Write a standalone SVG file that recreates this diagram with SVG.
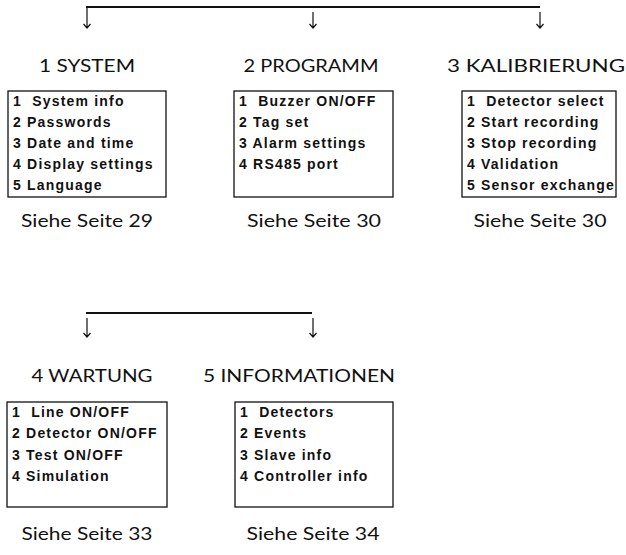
<svg xmlns="http://www.w3.org/2000/svg" width="626" height="555" viewBox="0 0 626 555">
<defs>
<style>
.bg{fill:#fff}
.title{font-family:"Lato","Open Sans",sans-serif;font-size:17.5px;fill:#111;text-anchor:middle}
.ref{font-family:"Lato","Open Sans",sans-serif;font-size:18px;fill:#111;text-anchor:middle}
.item{font-family:"Liberation Sans","DejaVu Sans",sans-serif;font-size:14px;font-weight:bold;fill:#111;letter-spacing:1.2px;white-space:pre}
.box{fill:#fff;stroke:#111;stroke-width:1.3}
.bar{stroke:#111;stroke-width:2;fill:none}
.arr{stroke:#111;stroke-width:1.2;fill:none}
</style>
</defs>
<rect class="bg" x="0" y="0" width="626" height="555"/>
<g id="connectors">
<path class="bar" d="M86,7 H540"/>
<path class="arr" d="M87,7 V28 M83.5,24 L87,28 L90.5,24"/>
<path class="arr" d="M313,12 V28 M309.5,24 L313,28 L316.5,24"/>
<path class="arr" d="M540,12 V28 M536.5,24 L540,28 L543.5,24"/>
<path class="bar" d="M86,313 H312"/>
<path class="arr" d="M87,318 V337 M83.5,333 L87,337 L90.5,333"/>
<path class="arr" d="M313,318 V337 M309.5,333 L313,337 L316.5,333"/>
</g>
<g id="system">
<text class="title" x="87" y="72" textLength="96" lengthAdjust="spacingAndGlyphs">1 SYSTEM</text>
<rect class="box" x="8" y="91" width="158" height="106"/>
<text class="item" x="13" y="106" xml:space="preserve">1  System info</text>
<text class="item" x="13" y="127">2 Passwords</text>
<text class="item" x="13" y="148">3 Date and time</text>
<text class="item" x="13" y="169">4 Display settings</text>
<text class="item" x="13" y="190">5 Language</text>
<text class="ref" x="87" y="227" textLength="132" lengthAdjust="spacingAndGlyphs">Siehe Seite 29</text>
</g>
<g id="programm">
<text class="title" x="311" y="72" textLength="135" lengthAdjust="spacingAndGlyphs">2 PROGRAMM</text>
<rect class="box" x="234" y="91" width="159" height="106"/>
<text class="item" x="239" y="106" xml:space="preserve">1  Buzzer ON/OFF</text>
<text class="item" x="239" y="127">2 Tag set</text>
<text class="item" x="239" y="148">3 Alarm settings</text>
<text class="item" x="239" y="169">4 RS485 port</text>
<text class="ref" x="314" y="227" textLength="134" lengthAdjust="spacingAndGlyphs">Siehe Seite 30</text>
</g>
<g id="kalibrierung">
<text class="title" x="536" y="72" textLength="178" lengthAdjust="spacingAndGlyphs">3 KALIBRIERUNG</text>
<rect class="box" x="462" y="91" width="154" height="106"/>
<text class="item" x="467" y="106" xml:space="preserve">1  Detector select</text>
<text class="item" x="467" y="127">2 Start recording</text>
<text class="item" x="467" y="148">3 Stop recording</text>
<text class="item" x="467" y="169">4 Validation</text>
<text class="item" x="467" y="190">5 Sensor exchange</text>
<text class="ref" x="540" y="227" textLength="133" lengthAdjust="spacingAndGlyphs">Siehe Seite 30</text>
</g>
<g id="wartung">
<text class="title" x="92" y="382" textLength="121" lengthAdjust="spacingAndGlyphs">4 WARTUNG</text>
<rect class="box" x="7" y="402" width="160" height="105"/>
<text class="item" x="12" y="417" xml:space="preserve">1  Line ON/OFF</text>
<text class="item" x="12" y="438">2 Detector ON/OFF</text>
<text class="item" x="12" y="460">3 Test ON/OFF</text>
<text class="item" x="12" y="481">4 Simulation</text>
<text class="ref" x="87" y="540" textLength="131" lengthAdjust="spacingAndGlyphs">Siehe Seite 33</text>
</g>
<g id="informationen">
<text class="title" x="299" y="382" textLength="192" lengthAdjust="spacingAndGlyphs">5 INFORMATIONEN</text>
<rect class="box" x="235" y="402" width="158" height="105"/>
<text class="item" x="240" y="417" xml:space="preserve">1  Detectors</text>
<text class="item" x="240" y="438">2 Events</text>
<text class="item" x="240" y="460">3 Slave info</text>
<text class="item" x="240" y="481">4 Controller info</text>
<text class="ref" x="313" y="540" textLength="133" lengthAdjust="spacingAndGlyphs">Siehe Seite 34</text>
</g>
</svg>
